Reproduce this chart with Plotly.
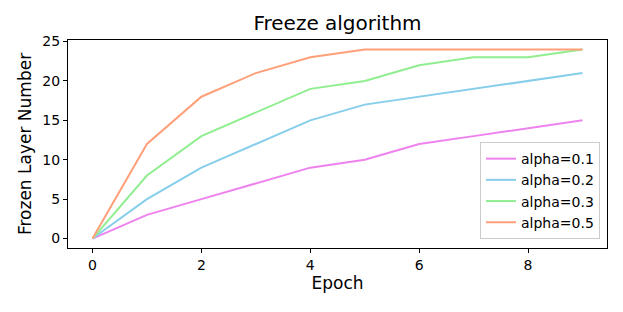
import plotly.graph_objects as go

epochs = [0, 1, 2, 3, 4, 5, 6, 7, 8, 9]
alpha_01 = [0, 3, 5, 7, 9, 10, 12, 13, 14, 15]
alpha_02 = [0, 5, 9, 12, 15, 17, 18, 19, 20, 21]
alpha_03 = [0, 8, 13, 16, 19, 20, 22, 23, 23, 24]
alpha_05 = [0, 12, 18, 21, 23, 24, 24, 24, 24, 24]
series_names = ["alpha=0.1", "alpha=0.2", "alpha=0.3", "alpha=0.5"]
colors = ["violet", "skyblue", "lightgreen", "lightsalmon"]

fig = go.Figure()
for name, vals, c in zip(series_names, [alpha_01, alpha_02, alpha_03, alpha_05], colors):
    fig.add_trace(go.Scatter(x=epochs, y=vals, mode="lines", name=name,
                             line=dict(color=c, width=2)))

font = "DejaVu Sans, sans-serif"
axis_common = dict(showgrid=False, zeroline=False, showline=True, linecolor="black",
                   linewidth=1, mirror=True, ticks="outside", ticklen=4, automargin=False,
                   tickcolor="black", tickfont=dict(family=font, size=14, color="black"))
# page body has an 8px margin; margins below compensate so the axes land in place
fig.update_layout(
    width=623, height=312,
    margin=dict(l=60, r=24, t=32, b=72),
    paper_bgcolor="white", plot_bgcolor="white",
    title=dict(text="Freeze algorithm", x=329.5 / 623, xanchor="center", xref="container",
               y=1 - 15 / 312, yanchor="middle", yref="container",
               font=dict(family=font, size=20, color="black")),
    xaxis=dict(range=[-0.45, 9.45], tickvals=[0, 2, 4, 6, 8],
               title=dict(text="Epoch", font=dict(family=font, size=17, color="black"), standoff=4),
               **axis_common),
    yaxis=dict(range=[-1.2, 25.2], tickvals=[0, 5, 10, 15, 20, 25],
               title=dict(text="Frozen Layer Number", font=dict(family=font, size=17, color="black"), standoff=6),
               **axis_common),
    legend=dict(x=0.987, y=0.043, xanchor="right", yanchor="bottom",
                bgcolor="rgba(255,255,255,0.8)", bordercolor="#cccccc", borderwidth=1,
                font=dict(family=font, size=14, color="black"), tracegroupgap=0,
                itemwidth=30),
    showlegend=True,
)
fig.write_html("out.html")
